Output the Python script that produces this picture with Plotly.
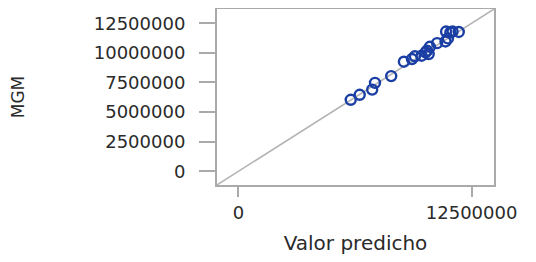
import plotly.graph_objects as go

# Valor predicho (x) vs MGM (y)
valor_predicho = [6020000, 6500000, 7170000, 7320000, 8190000, 8870000, 9300000, 9460000,
                  9820000, 10030000, 10110000, 10260000, 10650000, 11100000, 11230000,
                  11130000, 11480000, 11810000, 10200000, 11360000]
mgm = [6040000, 6460000, 6900000, 7470000, 8040000, 9250000, 9480000, 9710000,
       9760000, 10040000, 10180000, 10510000, 10820000, 10960000, 11220000,
       11800000, 11800000, 11760000, 9900000, 11720000]

axis_min = -1150000
axis_max = 13700000
tick_vals_y = [0, 2500000, 5000000, 7500000, 10000000, 12500000]
tick_vals_x = [0, 12500000]

fig = go.Figure()
fig.add_trace(go.Scatter(x=[axis_min, axis_max], y=[axis_min, axis_max], mode="lines",
                         line=dict(color="#b4b4b4", width=1.5), hoverinfo="skip",
                         showlegend=False))
fig.add_trace(go.Scatter(x=valor_predicho, y=mgm, mode="markers",
                         marker=dict(symbol="circle-open", size=10, color="#1a3ea3",
                                     line=dict(width=2.4, color="#1a3ea3")),
                         showlegend=False))

font_family = "DejaVu Sans"
fig.update_layout(
    width=536, height=262,
    margin=dict(l=209, r=50, t=1, b=85),
    paper_bgcolor="white", plot_bgcolor="white",
    font=dict(family=font_family, color="#2a2a2a"),
)
fig.update_xaxes(
    range=[axis_min, axis_max], tickvals=tick_vals_x, ticktext=[str(v) for v in tick_vals_x],
    showgrid=False, zeroline=False, showline=True, mirror=True, automargin=False,
    linecolor="#aaaaaa", linewidth=2, ticks="outside", ticklen=10, tickcolor="#aaaaaa",
    tickwidth=2, tickfont=dict(size=18, color="#2a2a2a"),
    title=dict(text="Valor predicho", font=dict(size=20, color="#2a2a2a"), standoff=14),
)
fig.update_yaxes(
    range=[axis_min, axis_max], tickvals=tick_vals_y, ticktext=[str(v) for v in tick_vals_y],
    showgrid=False, zeroline=False, showline=True, mirror=True, automargin=False,
    linecolor="#aaaaaa", linewidth=2, ticks="outside", ticklen=16, tickcolor="#aaaaaa",
    tickwidth=2, ticklabelstandoff=10, tickfont=dict(size=18, color="#2a2a2a"),
    title=dict(text="MGM", font=dict(size=17, color="#2a2a2a"), standoff=82),
)
fig.write_html("out.html")
